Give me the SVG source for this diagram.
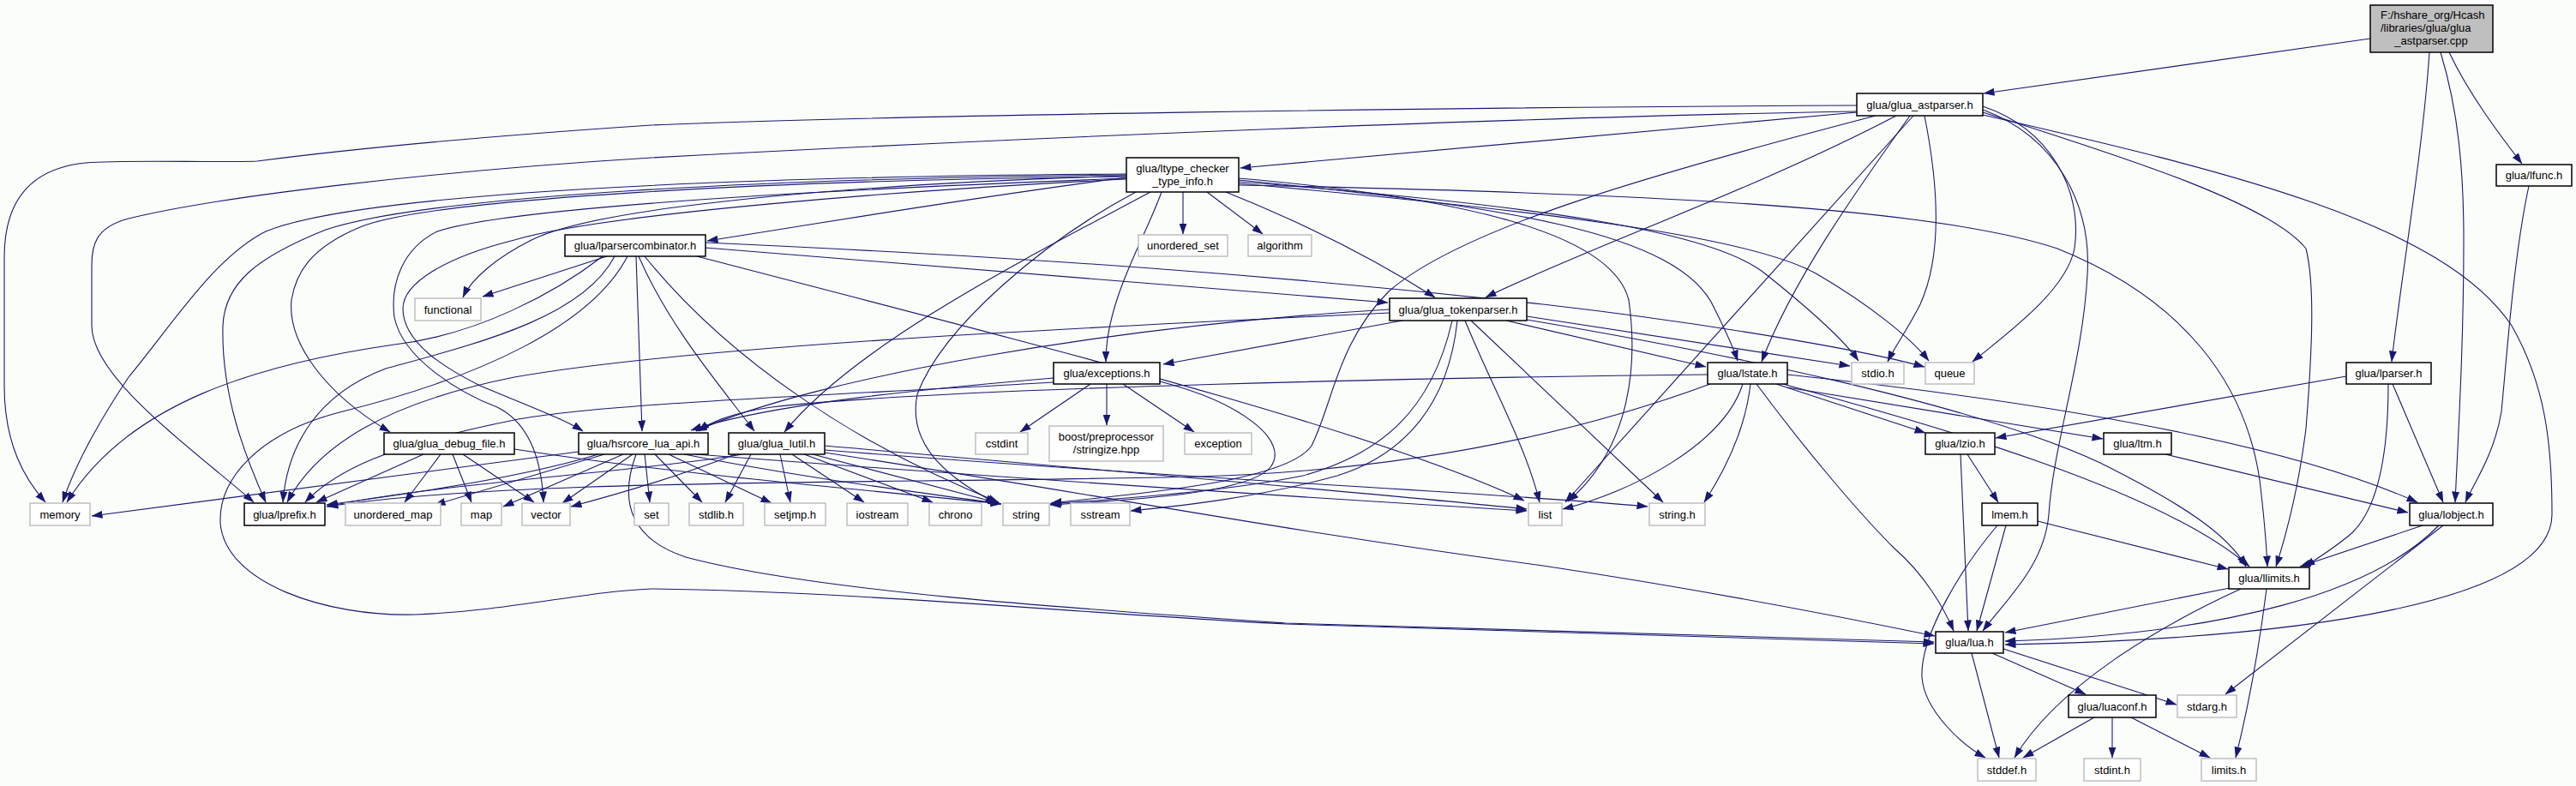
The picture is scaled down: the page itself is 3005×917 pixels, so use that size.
<svg xmlns="http://www.w3.org/2000/svg" width="3005" height="917" viewBox="0 0 3005 917">
<style>
.e path{fill:none;stroke:#191970;stroke-width:1.1;marker-end:url(#a)}
.n rect{fill:#fff;stroke:#000;stroke-width:1.5}
.g rect{fill:#fff;stroke:#bfbfbf;stroke-width:1.5}
.r rect{fill:#bfbfbf;stroke:#000;stroke-width:1.5}
text{font-family:"Liberation Sans",Arial,sans-serif;font-size:13px;text-anchor:middle;fill:#000}
</style>
<defs>
<marker id="a" viewBox="0 0 13 9" refX="12.5" refY="4.5" markerWidth="13" markerHeight="9" markerUnits="userSpaceOnUse" orient="auto"><path d="M0,0 L13,4.5 L0,9 z" fill="#191970"/></marker>
</defs>
<rect width="3005" height="917" fill="#fbfdfb"/>
<g id="edges" class="e">
<path d="M2765,45 L2314,109"/>
<path d="M2857,61 C2880,110 2918,160 2942,191"/>
<path d="M2834,61 C2826,180 2800,330 2790,422"/>
<path d="M2847,61 C2868,130 2874,200 2874,280 C2874,400 2868,500 2864,586"/>
<path d="M2950,217 C2932,300 2924,420 2918,480 C2910,530 2885,565 2876,586"/>
<path d="M2737,439 L2328,511"/>
<path d="M2791,448 L2850,586"/>
<path d="M2786,448 C2786,540 2770,600 2740,625 C2715,645 2698,655 2688,661"/>
<path d="M2526,530 L2809,598"/>
<path d="M2295,530 L2331,586"/>
<path d="M2287,530 L2296,736"/>
<path d="M2340,613 L2306,736"/>
<path d="M2330,613 C2290,660 2240,740 2242,790 C2245,830 2290,870 2316,884"/>
<path d="M2377,608 L2599,664"/>
<path d="M2601,686 L2339,738"/>
<path d="M2614,687 C2520,730 2400,800 2350,884"/>
<path d="M2644,687 C2636,750 2624,820 2608,884"/>
<path d="M2826,613 L2683,661"/>
<path d="M2845,613 C2770,690 2600,740 2339,748"/>
<path d="M2850,613 L2596,810"/>
<path d="M2324,762 L2433,810"/>
<path d="M2337,757 L2539,822"/>
<path d="M2300,762 L2332,884"/>
<path d="M2443,837 L2360,884"/>
<path d="M2464,837 L2464,884"/>
<path d="M2486,837 L2578,884"/>
<path d="M2085,437 C2350,465 2650,510 2820,586"/>
<path d="M2085,452 L2453,512"/>
<path d="M2080,448 C2250,495 2520,570 2624,661"/>
<path d="M2072,448 L2246,505"/>
<path d="M2049,448 C2110,530 2170,600 2210,640 C2245,670 2268,710 2279,736"/>
<path d="M2042,448 C2035,510 2005,560 1988,586"/>
<path d="M2033,448 C2010,520 1900,575 1823,594"/>
<path d="M1995,448 C1800,520 1600,550 1400,556 C1000,565 600,558 382,591"/>
<path d="M1992,437 C1700,440 1100,452 900,475 C850,482 825,495 815,503"/>
<path d="M1636,374 L1357,425"/>
<path d="M1621,361 C1300,380 950,440 812,503"/>
<path d="M1621,365 C1200,385 800,405 600,440 C450,470 370,520 335,586"/>
<path d="M1694,374 C1670,480 1610,530 1520,555 C1420,575 1300,582 1225,588"/>
<path d="M1700,374 C1690,470 1640,530 1560,555 C1470,580 1380,590 1319,596"/>
<path d="M1709,374 C1740,450 1780,520 1796,586"/>
<path d="M1716,374 L1940,586"/>
<path d="M1757,374 L1990,428"/>
<path d="M1781,369 C1950,395 2080,415 2158,427"/>
<path d="M1781,373 C2000,410 2300,470 2450,540 C2550,590 2600,625 2620,661"/>
<path d="M1272,448 L1190,504"/>
<path d="M1291,448 L1291,496"/>
<path d="M1310,448 L1393,504"/>
<path d="M1229,441 C1100,452 900,470 806,502"/>
<path d="M1229,446 C1000,460 700,470 600,490 C450,520 390,550 356,586"/>
<path d="M1353,445 C1450,470 1505,515 1482,545 C1455,578 1300,584 1225,589"/>
<path d="M866,530 C750,550 500,565 381,591"/>
<path d="M858,530 C780,560 700,582 666,591"/>
<path d="M876,530 L846,586"/>
<path d="M910,530 L922,586"/>
<path d="M924,530 L1008,586"/>
<path d="M938,530 L1088,586"/>
<path d="M948,530 L1165,587"/>
<path d="M962,520 C1300,550 1600,575 1781,594"/>
<path d="M962,525 C1400,560 1750,575 1922,591"/>
<path d="M962,528 C1300,580 1500,620 1800,660 C2000,690 2150,720 2257,742"/>
<path d="M675,527 L107,602"/>
<path d="M698,530 C600,560 450,580 381,589"/>
<path d="M705,530 L507,589"/>
<path d="M727,530 L587,591"/>
<path d="M738,530 L656,587"/>
<path d="M752,530 L758,586"/>
<path d="M764,530 L819,586"/>
<path d="M780,530 L900,587"/>
<path d="M798,530 C950,560 1080,575 1168,588"/>
<path d="M812,530 C1200,560 1600,585 1781,596"/>
<path d="M742,530 C720,590 740,630 800,650 C950,690 1250,710 1500,727 C1900,740 2100,745 2256,749"/>
<path d="M494,530 L369,586"/>
<path d="M514,530 L472,586"/>
<path d="M528,530 L550,586"/>
<path d="M540,530 L623,586"/>
<path d="M600,524 C800,555 1000,570 1168,588"/>
<path d="M708,299 L563,346"/>
<path d="M703,299 C650,340 560,390 460,402 C300,425 150,470 78,586"/>
<path d="M717,299 C680,370 560,400 450,430 C370,460 335,520 330,586"/>
<path d="M732,299 C690,380 560,440 400,480 C300,505 255,560 257,610 C262,680 380,720 485,717 C600,712 680,690 760,687 C1000,690 1250,715 1500,728 C1900,742 2100,747 2256,751"/>
<path d="M742,299 L749,503"/>
<path d="M745,299 C780,380 840,450 880,503"/>
<path d="M752,299 C850,420 1000,520 1165,586"/>
<path d="M813,299 C1200,400 1600,500 1778,584"/>
<path d="M823,289 C1200,320 1450,340 1619,353"/>
<path d="M823,283 C1200,300 1480,320 1800,355 C2000,378 2180,410 2245,428"/>
<path d="M1314,207 C1100,235 950,262 825,281"/>
<path d="M1314,205 C1000,215 700,240 620,280 C580,300 550,325 540,347"/>
<path d="M1314,203 C850,206 420,225 310,270 C250,300 200,380 150,440 C110,500 85,550 73,586"/>
<path d="M1314,204 C900,208 500,228 380,268 C300,300 262,330 260,380 C258,460 285,530 310,586"/>
<path d="M1314,206 C900,210 500,232 420,265 C360,290 345,320 340,350 C335,400 380,460 455,504"/>
<path d="M1314,208 C1000,220 600,240 510,270 C470,290 455,330 460,370 C470,420 540,460 580,475 C620,495 632,540 634,586"/>
<path d="M1314,209 C1050,222 700,250 600,280 C520,300 470,330 470,360 C470,400 520,430 560,450 C620,475 660,490 680,503"/>
<path d="M1342,224 C1200,300 1000,400 915,504"/>
<path d="M1325,224 C1220,280 1100,380 1070,460 C1060,510 1090,550 1162,587"/>
<path d="M1355,224 C1335,280 1290,350 1290,422"/>
<path d="M1380,224 L1380,273"/>
<path d="M1408,224 L1473,273"/>
<path d="M1430,224 C1520,260 1600,300 1674,347"/>
<path d="M1445,208 C1700,230 1880,270 1900,350 C1910,420 1905,520 1829,585"/>
<path d="M1445,210 C1750,240 1960,270 2000,360 C2015,390 2022,405 2027,421"/>
<path d="M1445,212 C1800,240 2000,270 2060,320 C2110,360 2150,395 2168,421"/>
<path d="M1445,214 C1850,250 2050,280 2120,320 C2180,355 2230,395 2250,421"/>
<path d="M1445,216 C1900,225 2250,240 2400,290 C2550,350 2620,450 2636,560 C2642,610 2644,640 2645,661"/>
<path d="M2166,123 C1700,125 1000,135 760,146 C550,160 400,175 300,188 C250,190 150,186 100,190 C40,196 5,230 5,300 L5,450 C5,520 30,560 53,586"/>
<path d="M2166,130 C1800,136 1200,160 760,184 C500,200 250,230 150,255 C112,265 107,285 107,310 L107,380 C107,440 220,520 296,586"/>
<path d="M2166,131 L1447,196"/>
<path d="M2212,135 C2050,220 1850,290 1733,347"/>
<path d="M2188,135 C1900,210 1700,270 1620,340 C1560,400 1555,470 1530,520 C1500,565 1300,578 1226,587"/>
<path d="M2228,135 C2160,230 2090,330 2055,422"/>
<path d="M2232,135 L1826,586"/>
<path d="M2245,135 C2262,220 2265,300 2240,355 C2225,385 2210,405 2202,422"/>
<path d="M2313,124 C2390,150 2430,220 2420,290 C2410,340 2340,390 2301,422"/>
<path d="M2313,128 C2400,160 2440,240 2435,320 C2430,420 2395,520 2390,600 C2385,660 2340,700 2313,736"/>
<path d="M2313,131 C2500,190 2650,240 2690,290 C2700,330 2698,400 2690,500 C2680,580 2665,630 2655,661"/>
<path d="M2313,134 C2600,200 2850,260 2930,380 C2970,450 2977,520 2977,600 C2977,700 2700,745 2339,752"/>
</g>
<g id="root" class="r"><rect x="2765" y="6" width="143" height="55"/><text x="2777" y="22" style="text-anchor:start">F:/hshare_org/Hcash</text><text x="2777" y="37" style="text-anchor:start">/libraries/glua/glua</text><text x="2836" y="52">_astparser.cpp</text></g>
<g id="n1" class="n"><rect x="2166" y="109" width="147" height="26"/><text x="2239.5" y="126.5">glua/glua_astparser.h</text></g>
<g id="n2" class="n"><rect x="1314" y="184" width="131" height="40"/><text x="1379.5" y="201">glua/ltype_checker</text><text x="1379.5" y="216">_type_info.h</text></g>
<g id="n3" class="n"><rect x="2912" y="192" width="88" height="25"/><text x="2956" y="209">glua/lfunc.h</text></g>
<g id="n4" class="n"><rect x="659" y="274" width="164" height="25"/><text x="741" y="291">glua/lparsercombinator.h</text></g>
<g id="n5" class="g"><rect x="1328" y="274" width="104" height="25"/><text x="1380" y="291">unordered_set</text></g>
<g id="n6" class="g"><rect x="1456" y="274" width="74" height="25"/><text x="1493" y="291">algorithm</text></g>
<g id="n7" class="g"><rect x="484" y="348" width="77" height="26"/><text x="522.5" y="365.5">functional</text></g>
<g id="n8" class="n"><rect x="1621" y="348" width="160" height="26"/><text x="1701" y="365.5">glua/glua_tokenparser.h</text></g>
<g id="n9" class="n"><rect x="1229" y="423" width="124" height="25"/><text x="1291" y="440">glua/exceptions.h</text></g>
<g id="n10" class="n"><rect x="1992" y="423" width="93" height="25"/><text x="2038.5" y="440">glua/lstate.h</text></g>
<g id="n11" class="g"><rect x="2160" y="423" width="61" height="25"/><text x="2190.5" y="440">stdio.h</text></g>
<g id="n12" class="g"><rect x="2246" y="423" width="57" height="25"/><text x="2274.5" y="440">queue</text></g>
<g id="n13" class="n"><rect x="2737" y="423" width="99" height="25"/><text x="2786.5" y="440">glua/lparser.h</text></g>
<g id="n14" class="n"><rect x="448" y="505" width="152" height="25"/><text x="524" y="522">glua/glua_debug_file.h</text></g>
<g id="n15" class="n"><rect x="675" y="505" width="151" height="25"/><text x="750.5" y="522">glua/hsrcore_lua_api.h</text></g>
<g id="n16" class="n"><rect x="850" y="505" width="112" height="25"/><text x="906" y="522">glua/glua_lutil.h</text></g>
<g id="n17" class="g"><rect x="1138" y="505" width="61" height="25"/><text x="1168.5" y="522">cstdint</text></g>
<g id="n18" class="g"><rect x="1224" y="497" width="133" height="41"/><text x="1290.5" y="514">boost/preprocessor</text><text x="1290.5" y="529">/stringize.hpp</text></g>
<g id="n19" class="g"><rect x="1382" y="505" width="78" height="25"/><text x="1421" y="522">exception</text></g>
<g id="n20" class="n"><rect x="2246" y="505" width="81" height="25"/><text x="2286.5" y="522">glua/lzio.h</text></g>
<g id="n21" class="n"><rect x="2454" y="505" width="79" height="25"/><text x="2493.5" y="522">glua/ltm.h</text></g>
<g id="n22" class="g"><rect x="35" y="587" width="70" height="26"/><text x="70" y="604.5">memory</text></g>
<g id="n23" class="n"><rect x="285" y="587" width="94" height="26"/><text x="332" y="604.5">glua/lprefix.h</text></g>
<g id="n24" class="g"><rect x="403" y="587" width="111" height="26"/><text x="458.5" y="604.5">unordered_map</text></g>
<g id="n25" class="g"><rect x="538" y="587" width="47" height="26"/><text x="561.5" y="604.5">map</text></g>
<g id="n26" class="g"><rect x="609" y="587" width="56" height="26"/><text x="637" y="604.5">vector</text></g>
<g id="n27" class="g"><rect x="740" y="587" width="40" height="26"/><text x="760" y="604.5">set</text></g>
<g id="n28" class="g"><rect x="804" y="587" width="63" height="26"/><text x="835.5" y="604.5">stdlib.h</text></g>
<g id="n29" class="g"><rect x="892" y="587" width="71" height="26"/><text x="927.5" y="604.5">setjmp.h</text></g>
<g id="n30" class="g"><rect x="988" y="587" width="71" height="26"/><text x="1023.5" y="604.5">iostream</text></g>
<g id="n31" class="g"><rect x="1084" y="587" width="61" height="26"/><text x="1114.5" y="604.5">chrono</text></g>
<g id="n32" class="g"><rect x="1170" y="587" width="54" height="26"/><text x="1197" y="604.5">string</text></g>
<g id="n33" class="g"><rect x="1249" y="587" width="69" height="26"/><text x="1283.5" y="604.5">sstream</text></g>
<g id="n34" class="g"><rect x="1783" y="587" width="39" height="26"/><text x="1802.5" y="604.5">list</text></g>
<g id="n35" class="g"><rect x="1924" y="587" width="65" height="26"/><text x="1956.5" y="604.5">string.h</text></g>
<g id="n36" class="n"><rect x="2312" y="587" width="65" height="26"/><text x="2344.5" y="604.5">lmem.h</text></g>
<g id="n37" class="n"><rect x="2811" y="587" width="97" height="26"/><text x="2859.5" y="604.5">glua/lobject.h</text></g>
<g id="n38" class="n"><rect x="2600" y="662" width="94" height="25"/><text x="2647" y="679">glua/llimits.h</text></g>
<g id="n39" class="n"><rect x="2258" y="737" width="79" height="25"/><text x="2297.5" y="754">glua/lua.h</text></g>
<g id="n40" class="n"><rect x="2413" y="811" width="102" height="26"/><text x="2464" y="828.5">glua/luaconf.h</text></g>
<g id="n41" class="g"><rect x="2540" y="811" width="69" height="26"/><text x="2574.5" y="828.5">stdarg.h</text></g>
<g id="n42" class="g"><rect x="2307" y="885" width="68" height="26"/><text x="2341" y="902.5">stddef.h</text></g>
<g id="n43" class="g"><rect x="2431" y="885" width="66" height="26"/><text x="2464" y="902.5">stdint.h</text></g>
<g id="n44" class="g"><rect x="2568" y="885" width="64" height="26"/><text x="2600" y="902.5">limits.h</text></g>
</svg>
